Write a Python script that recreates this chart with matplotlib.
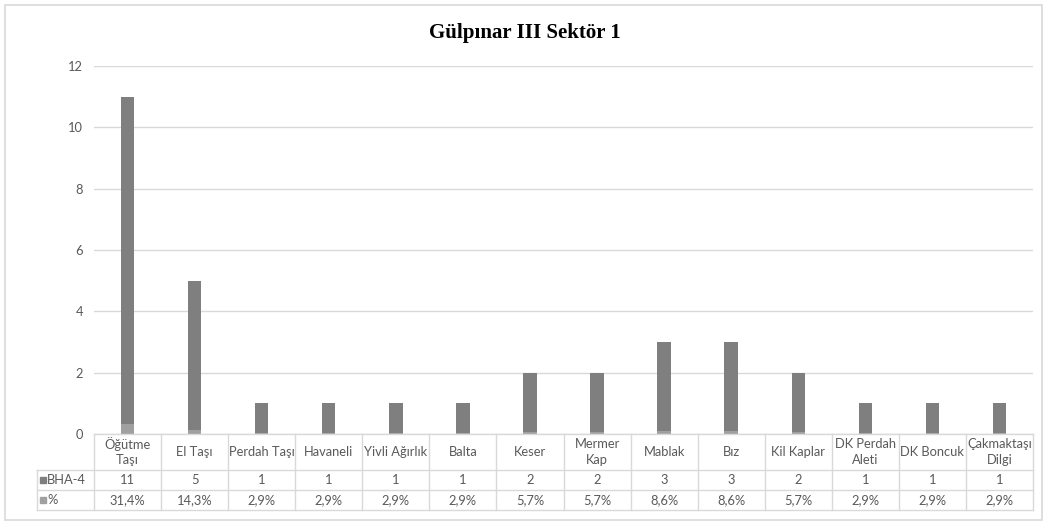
import matplotlib.pyplot as plt
from matplotlib.patches import Rectangle
from matplotlib.lines import Line2D

# data
categories = ["Öğütme\nTaşı", "El Taşı", "Perdah Taşı", "Havaneli", "Yivli Ağırlık",
              "Balta", "Keser", "Mermer\nKap", "Mablak", "Bız", "Kil Kaplar",
              "DK Perdah\nAleti", "DK Boncuk", "Çakmaktaşı\nDilgi"]
bha4 = [11, 5, 1, 1, 1, 1, 2, 2, 3, 3, 2, 1, 1, 1]
pct = [0.314, 0.143, 0.029, 0.029, 0.029, 0.029, 0.057, 0.057, 0.086, 0.086,
       0.057, 0.029, 0.029, 0.029]
pct_labels = ["31,4%", "14,3%", "2,9%", "2,9%", "2,9%", "2,9%", "5,7%", "5,7%",
              "8,6%", "8,6%", "5,7%", "2,9%", "2,9%", "2,9%"]
yticks = [0, 2, 4, 6, 8, 10, 12]

W, H = 1049, 526
dark = "#7f7f7f"
light = "#a0a0a0"
grid_c = "#d9d9d9"
txt_c = "#595959"
font = "Lato"
fs = 9.3

fig = plt.figure(figsize=(W / 100, H / 100), dpi=100)

# chart frame
fig.add_artist(Rectangle((5 / W, 1 - 520 / H), 1037 / W, 515 / H,
                         transform=fig.transFigure, fill=False,
                         edgecolor="#d9d9d9", lw=1.2))

x0, x1, y0, y1 = 94, 1033, 434, 66
ax = fig.add_axes([x0 / W, 1 - y0 / H, (x1 - x0) / W, (y0 - y1) / H])
xs = [i + 0.5 for i in range(len(categories))]
ax.bar(xs, bha4, width=0.2, color=dark, zorder=3)
ax.bar(xs, pct, width=0.2, color=light, zorder=4)
ax.set_xlim(0, len(categories))
ax.set_ylim(0, 12)
ax.set_yticks(yticks)
ax.set_yticklabels([str(v) for v in yticks], color=txt_c, fontsize=fs, family=font)
ax.tick_params(axis="y", length=0, pad=8)
ax.set_xticks([])
ax.grid(axis="y", color=grid_c, lw=1, zorder=0)
for s in ax.spines.values():
    s.set_visible(False)

fig.text(0.5, 1 - 33 / H, "Gülpınar III Sektör 1", ha="center", va="center",
         family="Liberation Serif", fontweight="bold", fontsize=15)

# data table below the axis
def fy(py):
    return 1 - py / H

def fx(px):
    return px / W

rows = [434, 470, 490, 510]
lk = dict(transform=fig.transFigure, color=grid_c, lw=1)
fig.add_artist(Line2D([fx(x0), fx(x1)], [fy(rows[0]), fy(rows[0])], **lk))
for r in rows[1:]:
    fig.add_artist(Line2D([fx(37), fx(x1)], [fy(r), fy(r)], **lk))
fig.add_artist(Line2D([fx(37), fx(37)], [fy(rows[1]), fy(rows[3])], **lk))
step = (x1 - x0) / len(categories)
for i in range(len(categories) + 1):
    px = x0 + i * step
    fig.add_artist(Line2D([fx(px), fx(px)], [fy(rows[0]), fy(rows[3])], **lk))

for i, cat in enumerate(categories):
    cx = fx(x0 + (i + 0.5) * step)
    fig.text(cx, fy(452), cat, ha="center", va="center", fontsize=fs,
             family=font, color=txt_c, linespacing=1.3)
    fig.text(cx, fy(480), str(bha4[i]), ha="center", va="center", fontsize=fs,
             family=font, color=txt_c)
    fig.text(cx, fy(500), pct_labels[i], ha="center", va="center", fontsize=fs,
             family=font, color=txt_c)

for py, lab, col in [(480, "BHA-4", dark), (500, "%", light)]:
    fig.add_artist(Rectangle((fx(40), fy(py + 3)), 6 / W, 6 / H,
                             transform=fig.transFigure, color=col))
    fig.text(fx(47), fy(py), lab, ha="left", va="center", fontsize=fs,
             family=font, color=txt_c)

fig.savefig("out.png", dpi=100)
